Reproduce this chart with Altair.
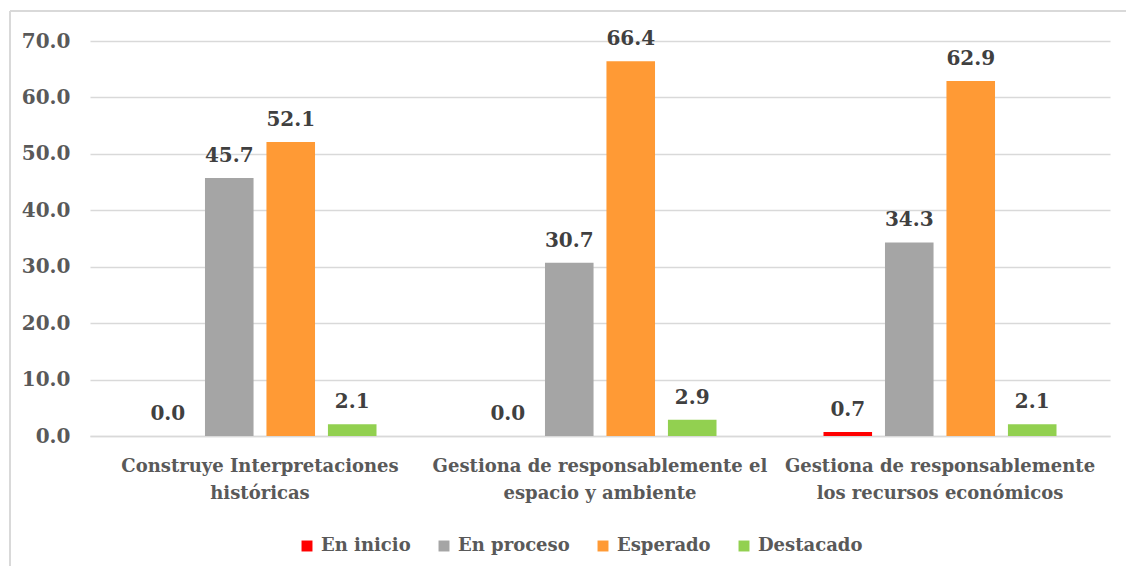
import altair as alt
import pandas as pd

categories = [
    "Construye Interpretaciones\nhistóricas",
    "Gestiona de responsablemente el\nespacio y ambiente",
    "Gestiona de responsablemente\nlos recursos económicos",
]
series = ["En inicio", "En proceso", "Esperado", "Destacado"]
colors = ["#FF0000", "#A5A5A5", "#FF9A35", "#92D050"]
en_inicio = [0.0, 0.0, 0.7]
en_proceso = [45.7, 30.7, 34.3]
esperado = [52.1, 66.4, 62.9]
destacado = [2.1, 2.9, 2.1]
y_ticks = [0, 10, 20, 30, 40, 50, 60, 70]

rows = []
for s, vals in zip(series, [en_inicio, en_proceso, esperado, destacado]):
    for c, v in zip(categories, vals):
        rows.append({"cat": c, "serie": s, "valor": v})
df = pd.DataFrame(rows)

FONT = "DejaVu Serif"
W, H = 1020, 395

x = alt.X("cat:N", sort=categories, title=None,
          scale=alt.Scale(paddingInner=0, paddingOuter=0),
          axis=alt.Axis(labelAngle=0, labelExpr="split(datum.label, '\\n')",
                        labelLineHeight=27, labelPadding=21, ticks=False,
                        labelLimit=0,
                        domainColor="#d9d9d9", domainWidth=1.5,
                        labelFont=FONT, labelFontSize=18, labelFontWeight="bold",
                        labelColor="#595959", grid=False))
xo = alt.XOffset("serie:N", sort=series,
                 scale=alt.Scale(paddingInner=0.21, paddingOuter=0.87))
y = alt.Y("valor:Q", title=None,
          scale=alt.Scale(domain=[0, 70], nice=False),
          axis=alt.Axis(values=y_ticks, format=".1f", ticks=False, domain=False,
                        labelPadding=20, labelFont=FONT, labelFontSize=20,
                        labelFontWeight="bold", labelColor="#595959",
                        gridColor="#d9d9d9", gridWidth=1.5))

base = alt.Chart(df)
bars = base.mark_bar().encode(
    x=x, xOffset=xo, y=y,
    color=alt.Color("serie:N", sort=series,
                    scale=alt.Scale(domain=series, range=colors),
                    legend=alt.Legend(title=None, orient="none", direction="horizontal",
                                      legendX=208, legendY=496, symbolType="square",
                                      symbolSize=120, symbolStrokeWidth=0,
                                      labelFont=FONT, labelFontSize=18, labelLimit=0,
                                      labelFontWeight="bold", labelColor="#595959",
                                      labelOffset=5, columnPadding=24, padding=0)),
)
labels = base.mark_text(font=FONT, fontSize=20, fontWeight="bold", color="#404040",
                        baseline="alphabetic", dy=-16).encode(
    x=x, xOffset=xo, y=y, text=alt.Text("valor:Q", format=".1f"))

border_left = alt.Chart(df).mark_rule(color="#d9d9d9", strokeWidth=1.5).encode(
    x=alt.value(-80), y=alt.value(-30), y2=alt.value(560))
border_top = alt.Chart(df).mark_rule(color="#d9d9d9", strokeWidth=1.5).encode(
    x=alt.value(-80), x2=alt.value(1060), y=alt.value(-30))

chart = alt.layer(border_left, border_top, bars, labels).properties(
    width=W, height=H,
    autosize=alt.AutoSizeParams(type="none"),
    padding={"left": 82, "top": 33, "right": 16, "bottom": 130},
    background="white",
).configure_view(stroke=None)

chart.save("out.html", embed_options={"renderer": "svg", "actions": False})
